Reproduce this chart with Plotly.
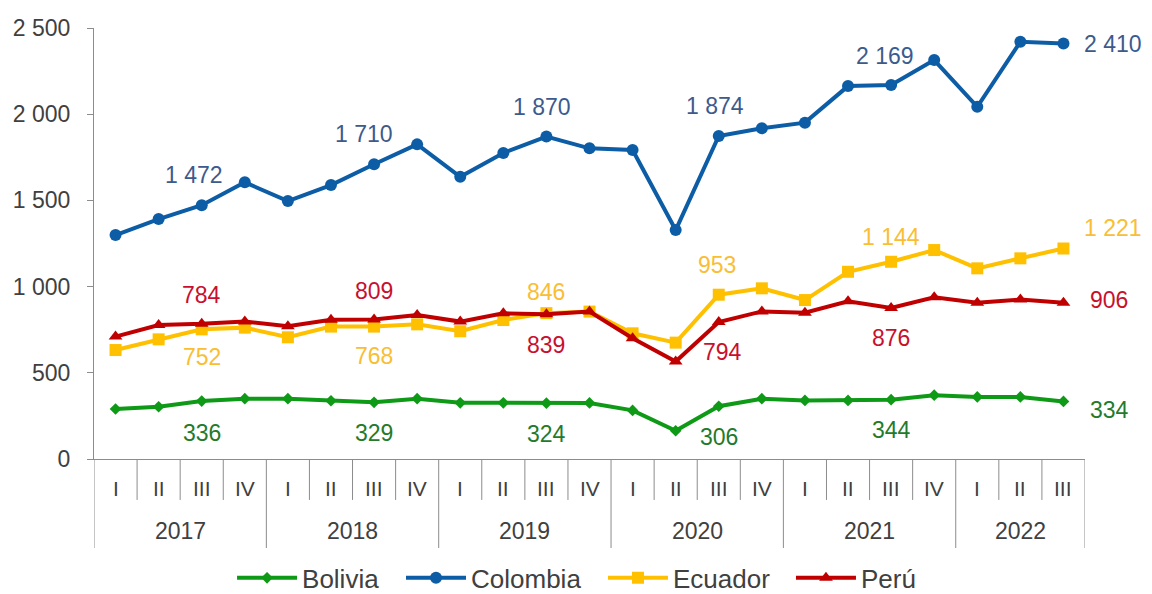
import plotly.graph_objects as go

years = ["2017", "2018", "2019", "2020", "2021", "2022"]
quarters = ["I", "II", "III", "IV", "I", "II", "III", "IV", "I", "II", "III", "IV",
            "I", "II", "III", "IV", "I", "II", "III", "IV", "I", "II", "III"]
year_quarter_counts = [4, 4, 4, 4, 4, 3]

bolivia = [290, 303, 336, 350, 350, 338, 329, 350, 326, 326, 324, 325,
           282, 164, 306, 350, 340, 340, 344, 370, 360, 360, 334]
colombia = [1299, 1392, 1472, 1605, 1496, 1589, 1710, 1825, 1637, 1775, 1870, 1802,
            1792, 1328, 1874, 1918, 1951, 2163, 2169, 2314, 2043, 2420, 2410]
ecuador = [632, 694, 752, 762, 706, 768, 768, 781, 741, 806, 846, 855,
           729, 675, 953, 990, 922, 1086, 1144, 1212, 1106, 1164, 1221]
peru = [710, 777, 784, 797, 770, 808, 809, 835, 797, 845, 839, 855,
        700, 565, 794, 856, 848, 915, 876, 938, 906, 925, 906]

label_idx = [2, 6, 10, 14, 18, 22]

x = list(range(len(quarters)))

series = [
    dict(name="Bolivia", y=bolivia, color="#0E9A16", label_color="#237A2A",
         symbol="diamond", msize=9, legend_x=0.1393,
         offsets=[(0, -32), (0, -31), (0, -31), (0, -31), (0, -30), (46, -9)]),
    dict(name="Colombia", y=colombia, color="#0C5DA5", label_color="#3D5A8C",
         symbol="circle", msize=12, legend_x=0.3098,
         offsets=[(-8, 30), (-10, 30), (-4, 30), (-4, 30), (-6, 29), (50, 0)]),
    dict(name="Ecuador", y=ecuador, color="#FFC000", label_color="#F9BE33",
         symbol="square", msize=12, legend_x=0.5136,
         offsets=[(0, -28), (0, -29), (0, 21), (-2, 30), (0, 25), (50, 21)]),
    dict(name="Perú", y=peru, color="#C00000", label_color="#C8102E",
         symbol="triangle-up", msize=12, legend_x=0.7033,
         offsets=[(0, 29), (0, 29), (0, -31), (4, -30), (0, -30), (46, 3)]),
]

font_family = "Liberation Sans, Arial, sans-serif"

fig = go.Figure()
legend_layouts = {}
for n, s in enumerate(series):
    lname = "legend" if n == 0 else f"legend{n + 1}"
    fig.add_trace(go.Scatter(
        x=x, y=s["y"], name=s["name"], mode="lines+markers",
        line=dict(color=s["color"], width=4),
        marker=dict(symbol=s["symbol"], size=s["msize"], color=s["color"]),
        hoverinfo="skip", legend=lname,
    ))
    legend_layouts[lname] = dict(
        orientation="h", x=s["legend_x"], xanchor="left", y=-0.276, yanchor="middle",
        font=dict(family=font_family, size=26, color="#404040"),
        itemwidth=60, bgcolor="rgba(0,0,0,0)",
    )

annotations = []
for s in series:
    for k, i in enumerate(label_idx):
        v = s["y"][i]
        dx, dy = s["offsets"][k]
        annotations.append(dict(
            x=i, y=v, xref="x", yref="y", text=f"{v:,}".replace(",", " "),
            showarrow=False, xshift=dx, yshift=dy, xanchor="center", yanchor="middle",
            font=dict(family=font_family, size=23, color=s["label_color"]),
        ))

# quarter labels
for i, q in enumerate(quarters):
    annotations.append(dict(
        x=i, y=-0.0673, xref="x", yref="paper", text=q, showarrow=False,
        xanchor="center", yanchor="middle",
        font=dict(family=font_family, size=21, color="#404040"),
    ))

# year labels and separators
shapes = []
start = 0
for yr, n in zip(years, year_quarter_counts):
    annotations.append(dict(
        x=start + (n - 1) / 2, y=-0.167, xref="x", yref="paper", text=yr,
        showarrow=False, xanchor="center", yanchor="middle",
        font=dict(family=font_family, size=23, color="#404040"),
    ))
    shapes.append(dict(type="line", xref="x", yref="paper", x0=start - 0.5, x1=start - 0.5,
                       y0=0, y1=-0.2065, line=dict(color="#8C8C8C", width=1)))
    for j in range(1, n):
        shapes.append(dict(type="line", xref="x", yref="paper",
                           x0=start + j - 0.5, x1=start + j - 0.5,
                           y0=0, y1=-0.095, line=dict(color="#8C8C8C", width=1)))
    start += n
shapes.append(dict(type="line", xref="x", yref="paper", x0=start - 0.5, x1=start - 0.5,
                   y0=0, y1=-0.2065, line=dict(color="#8C8C8C", width=1)))

fig.update_layout(
    width=1144, height=586,
    margin=dict(l=86, r=67, t=20, b=135, autoexpand=False),
    plot_bgcolor="white", paper_bgcolor="white",
    separators=", ",
    showlegend=True,
    annotations=annotations,
    shapes=shapes,
    xaxis=dict(range=[-0.5, len(quarters) - 0.5], showgrid=False, zeroline=False,
               showline=True, linecolor="#8C8C8C", linewidth=1,
               showticklabels=False, ticks=""),
    yaxis=dict(range=[0, 2500], dtick=500, tickformat=",", showgrid=False, zeroline=False,
               showline=True, linecolor="#8C8C8C", linewidth=1,
               ticks="outside", ticklen=6, tickcolor="#8C8C8C", ticklabelstandoff=12,
               tickfont=dict(family=font_family, size=23, color="#404040")),
    **legend_layouts,
)

fig.write_html("out.html")
